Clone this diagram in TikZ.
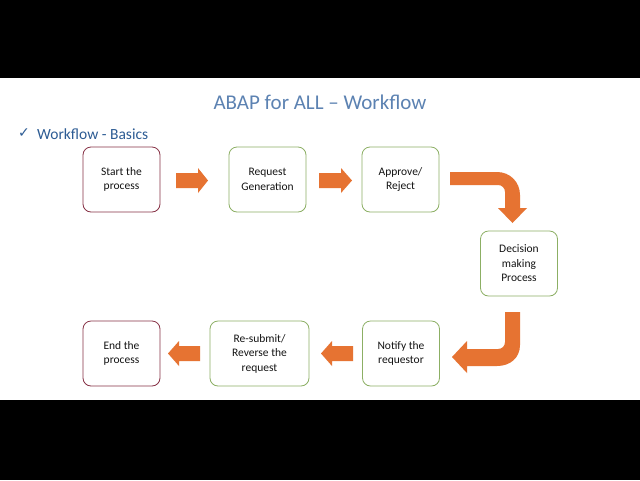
\documentclass[tikz,border=0pt]{standalone}
\usepackage{fontspec}
\setmainfont{Carlito}
\newfontfamily\symfont{DejaVu Sans}
\definecolor{titleblue}{RGB}{92,130,178}
\definecolor{subblue}{RGB}{45,92,148}
\definecolor{redborder}{RGB}{135,50,70}
\definecolor{greenborder}{RGB}{140,175,100}
\definecolor{arroworange}{RGB}{230,115,50}
\definecolor{txt}{RGB}{20,20,20}
\tikzset{
  stepbox/.style={draw, line width=0.8pt, rounded corners=8pt, fill=white,
    minimum width=77pt, minimum height=65pt, align=center, inner sep=2pt,
    font=\fontsize{11.5}{14.5}\selectfont, text=txt},
  redbox/.style={stepbox, draw=redborder},
  greenbox/.style={stepbox, draw=greenborder},
  blockarrow/.style={fill=arroworange, draw=none}
}
\begin{document}
\begin{tikzpicture}[x=1pt,y=-1pt]
\useasboundingbox (0,0) rectangle (640,480);
\fill[black] (0,0) rectangle (640,78);
\fill[white] (0,78) rectangle (640,400);
\fill[black] (0,400) rectangle (640,480);

\node[text=titleblue, font=\fontsize{21}{24}\selectfont] (title) at (320,102) {ABAP for ALL – Workflow};
\node[anchor=west, text=subblue, font=\fontsize{14}{16}\selectfont\symfont, inner sep=0pt] (check) at (18,133) {✓};
\node[anchor=west, text=subblue, font=\fontsize{15.5}{18}\selectfont, inner sep=0pt] (sub) at (37,134) {Workflow - Basics};

\node[redbox] (start) at (121.5,179.5) {\raisebox{-1.5pt}{\parbox{70pt}{\centering Start the\\process}}};
\node[greenbox] (req) at (267.5,179.5) {\raisebox{-1.5pt}{\parbox{70pt}{\centering Request\\Generation}}};
\node[greenbox] (appr) at (400.5,179.5) {\raisebox{-1.5pt}{\parbox{70pt}{\centering Approve/\\Reject}}};
\node[greenbox] (dec) at (519,263.5) {\raisebox{-1.5pt}{\parbox{70pt}{\centering Decision\\making\\Process}}};
\node[greenbox] (notify) at (401,353.5) {\raisebox{-1.5pt}{\parbox{70pt}{\centering Notify the\\requestor}}};
\node[greenbox, minimum width=99pt] (resub) at (259.5,353.5) {\raisebox{-1.5pt}{\parbox{90pt}{\centering Re-submit/\\Reverse the\\request}}};
\node[redbox] (end) at (121.5,353.5) {\raisebox{-1.5pt}{\parbox{70pt}{\centering End the\\process}}};

% straight arrows right
\fill[blockarrow] (176,173) -- (198,173) -- (198,168) -- (208,180.5) -- (198,193) -- (198,188) -- (176,188) -- cycle;
\fill[blockarrow] (319,173) -- (341,173) -- (341,168) -- (352,180.5) -- (341,193) -- (341,188) -- (319,188) -- cycle;
% bent arrow Approve -> Decision
\fill[blockarrow] (450,172) -- (497,172) .. controls (510,172) and (520,182) .. (520,195)
  -- (520,208) -- (527,208) -- (512.5,223) -- (498,208) -- (505,208) -- (505,192)
  .. controls (505,188) and (502,185) .. (498,185) -- (450,185) -- cycle;
% bent arrow Decision -> Notify
\fill[blockarrow] (520,312) -- (520,345) .. controls (520,358) and (510,366) .. (497,366)
  -- (467,366) -- (467,373) -- (452,357) -- (467,341) -- (467,349) -- (498,349)
  .. controls (502,349) and (505,346) .. (505,342) -- (505,312) -- cycle;
% straight arrows left
\fill[blockarrow] (353,346) -- (332,346) -- (332,341) -- (321,353.5) -- (332,366) -- (332,361) -- (353,361) -- cycle;
\fill[blockarrow] (200,346) -- (179,346) -- (179,341) -- (168,353.5) -- (179,366) -- (179,361) -- (200,361) -- cycle;
\end{tikzpicture}
\end{document}
